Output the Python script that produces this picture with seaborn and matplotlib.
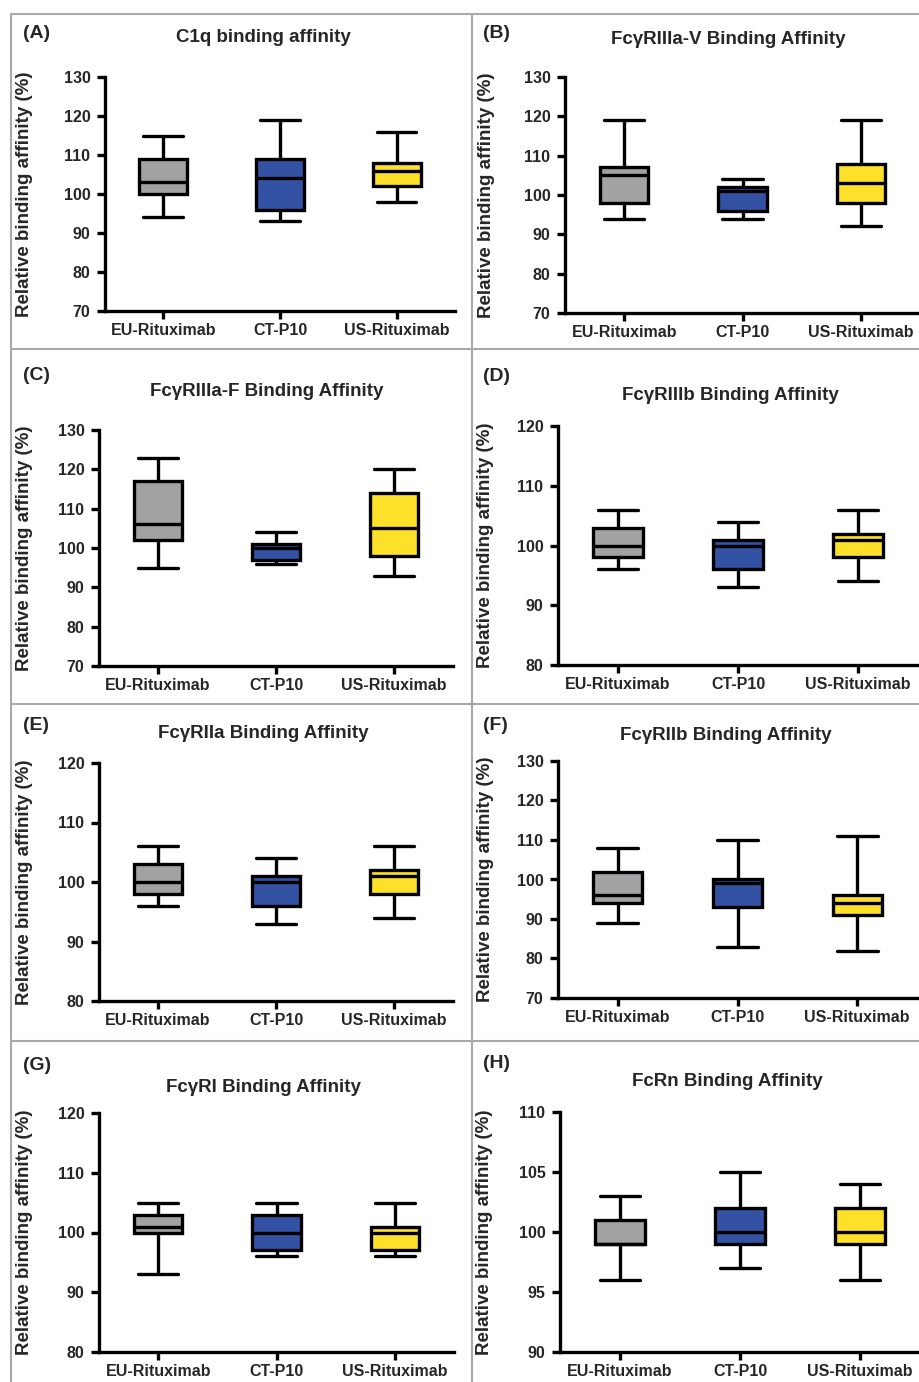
import matplotlib
matplotlib.use("Agg")
import matplotlib.pyplot as plt
from matplotlib.lines import Line2D
import seaborn as sns
import pandas as pd

# five-number summaries: min, q1, median, q3, max
groups = ["EU-Rituximab", "CT-P10", "US-Rituximab"]
colors = ["#a2a2a5", "#3352a3", "#fde02a"]

titles = [
    "C1q binding affinity",
    "FcγRIIIa-V Binding Affinity",
    "FcγRIIIa-F Binding Affinity",
    "FcγRIIIb Binding Affinity",
    "FcγRIIa Binding Affinity",
    "FcγRIIb Binding Affinity",
    "FcγRI Binding Affinity",
    "FcRn Binding Affinity",
]
panel_labels = ["(A)", "(B)", "(C)", "(D)", "(E)", "(F)", "(G)", "(H)"]

c1q_eu = [94, 100, 103, 109, 115]
c1q_ct = [93, 96, 104, 109, 119]
c1q_us = [98, 102, 106, 108, 116]

r3av_eu = [94, 98, 105, 107, 119]
r3av_ct = [94, 96, 101, 102, 104]
r3av_us = [92, 98, 103, 108, 119]

r3af_eu = [95, 102, 106, 117, 123]
r3af_ct = [96, 97, 100, 101, 104]
r3af_us = [93, 98, 105, 114, 120]

r3b_eu = [96, 98, 100, 103, 106]
r3b_ct = [93, 96, 100, 101, 104]
r3b_us = [94, 98, 101, 102, 106]

r2a_eu = [96, 98, 100, 103, 106]
r2a_ct = [93, 96, 100, 101, 104]
r2a_us = [94, 98, 101, 102, 106]

r2b_eu = [89, 94, 96, 102, 108]
r2b_ct = [83, 93, 99, 100, 110]
r2b_us = [82, 91, 94, 96, 111]

r1_eu = [93, 100, 101, 103, 105]
r1_ct = [96, 97, 100, 103, 105]
r1_us = [96, 97, 100, 101, 105]

fcrn_eu = [96, 99, 99, 101, 103]
fcrn_ct = [97, 99, 100, 102, 105]
fcrn_us = [96, 99, 100, 102, 104]

panel_data = [
    (c1q_eu, c1q_ct, c1q_us),
    (r3av_eu, r3av_ct, r3av_us),
    (r3af_eu, r3af_ct, r3af_us),
    (r3b_eu, r3b_ct, r3b_us),
    (r2a_eu, r2a_ct, r2a_us),
    (r2b_eu, r2b_ct, r2b_us),
    (r1_eu, r1_ct, r1_us),
    (fcrn_eu, fcrn_ct, fcrn_us),
]
y_ranges = [(70, 130, 10), (70, 130, 10), (70, 130, 10), (80, 120, 10),
            (80, 120, 10), (70, 130, 10), (80, 120, 10), (90, 110, 5)]

# layout in pixels: axes (left, top, right, bottom), title centre, label pos, ylabel x
W, H = 919, 1382
axes_px = [
    (105, 77, 455, 311), (565, 77, 920, 313),
    (99, 430, 453, 666), (558, 426, 918, 665),
    (99, 763, 453, 1001), (558, 761, 917, 998),
    (99, 1113, 454, 1352), (560, 1112, 920, 1352),
]
title_px = [(263, 38), (728, 40), (267, 392), (730, 395),
            (263, 733), (726, 736), (263, 1088), (727, 1082)]
label_px = [(23, 33), (483, 33), (23, 375), (483, 377),
            (23, 725), (483, 725), (23, 1065), (483, 1063)]
ylabel_x = [33, 495, 33, 494, 33, 494, 33, 493]

sns.set_style("ticks")
plt.rcParams["font.family"] = ["Liberation Sans", "DejaVu Sans"]
plt.rcParams["font.weight"] = "bold"

fig = plt.figure(figsize=(W / 100, H / 100), dpi=100)

for i in range(8):
    l, t, r, b = axes_px[i]
    ax = fig.add_axes([l / W, 1 - b / H, (r - l) / W, (b - t) / H])
    rows = []
    for g, vals in zip(groups, panel_data[i]):
        for v in vals:
            rows.append({"group": g, "value": v})
    df = pd.DataFrame(rows)
    sns.boxplot(
        data=df, x="group", y="value", hue="group", order=groups,
        hue_order=groups, palette=colors, legend=False, width=0.41,
        whis=(0, 100), linewidth=2.4, linecolor="black", showfliers=False,
        capwidths=0.34, saturation=1, ax=ax,
    )
    lo, hi, step = y_ranges[i]
    ax.set_ylim(lo, hi)
    ax.set_yticks(range(lo, hi + 1, step))
    ax.set_xlim(-0.5, 2.5)
    ax.set_xlabel("")
    ax.set_ylabel("Relative binding affinity (%)", fontsize=13.5, fontweight="bold")
    ax.yaxis.set_label_coords((ylabel_x[i] - l) / (r - l), 0.5)
    sns.despine(ax=ax)
    for side in ["left", "bottom"]:
        ax.spines[side].set_linewidth(2.4)
        ax.spines[side].set_color("black")
    ax.tick_params(axis="both", length=5.5, width=2.4, color="black")
    ax.tick_params(axis="y", labelsize=11.5, pad=5)
    ax.tick_params(axis="x", labelsize=11.5, pad=3)
    for lab in ax.get_xticklabels() + ax.get_yticklabels():
        lab.set_fontweight("bold")

    tx, ty = title_px[i]
    fig.text(tx / W, 1 - ty / H, titles[i], ha="center", va="center",
             fontsize=13.5, fontweight="bold")
    px, py = label_px[i]
    fig.text(px / W, 1 - py / H, panel_labels[i], ha="left", va="center",
             fontsize=14, fontweight="bold")

# panel frame lines
frame = "#a9a9a9"
def hline(y, x0=11, x1=W):
    fig.add_artist(Line2D([x0 / W, x1 / W], [1 - y / H, 1 - y / H], color=frame, lw=1.5))
def vline(x, y0=14, y1=H):
    fig.add_artist(Line2D([x / W, x / W], [1 - y0 / H, 1 - y1 / H], color=frame, lw=1.5))

for y in [14, 349, 704, 1041]:
    hline(y)
for x in [11, 472]:
    vline(x)

fig.savefig("out.png", dpi=100)
